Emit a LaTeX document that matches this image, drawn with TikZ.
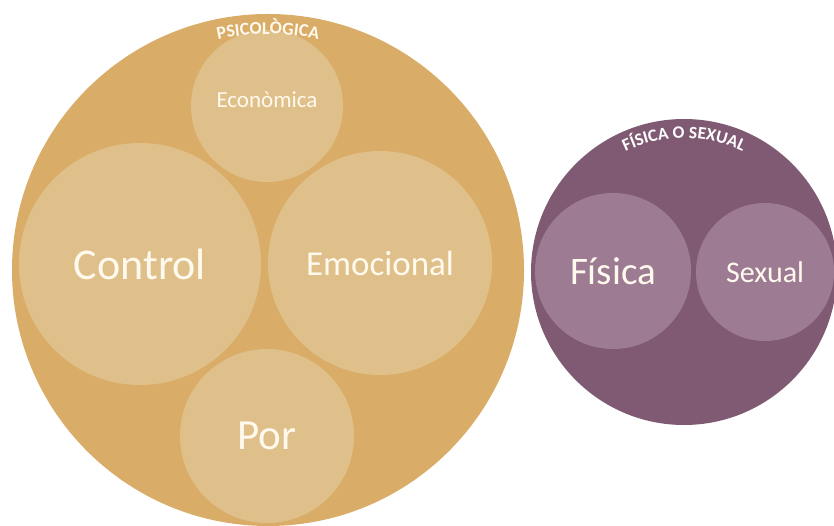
\documentclass[tikz,border=0pt]{standalone}
\usepackage{fontspec}
\setmainfont{Carlito}
\usetikzlibrary{calc,decorations.text}
\definecolor{tanbg}{RGB}{217,173,104}
\definecolor{tanlight}{RGB}{224,192,138}
\definecolor{plumbg}{RGB}{128,90,115}
\definecolor{plumlight}{RGB}{157,124,147}
\definecolor{cream}{RGB}{255,249,238}

\begin{document}
\begin{tikzpicture}[x=1pt,y=1pt,
  bubble/.style={circle,inner sep=0pt,minimum size=#1},
  word/.style={text=cream,inner sep=0pt,font=\fontsize{#1}{#1}\selectfont}]
  \useasboundingbox (0,0) rectangle (834,525);

  % Psicologica
  \node[bubble=512,fill=tanbg] (psico) at (268,255) {};
  \node[bubble=152,fill=tanlight] (econ) at (267,419) {};
  \node[bubble=242,fill=tanlight] (control) at (140,261) {};
  \node[bubble=224,fill=tanlight] (emoc) at (380,262) {};
  \node[bubble=174,fill=tanlight] (por) at (267,89) {};

  \node[word=23] (econlbl) at ($(econ.center)+(0,6)$) {Econòmica};
  \node[word=44] (controllbl) at (control.center) {Control};
  \node[word=35] (emoclbl) at (emoc.center) {Emocional};
  \node[word=43] (porlbl) at (por.center) {Por};

  \path[decorate,decoration={text along path,text align=center,
      text={|\bfseries\fontsize{18}{18}\selectfont\color{cream}|PSICOLÒGICA}}]
    ($(psico.center)+(120:236)$) arc[start angle=120,end angle=60,radius=236];

  % Fisica o sexual
  \node[bubble=306,fill=plumbg] (fisex) at (684,253) {};
  \node[bubble=156,fill=plumlight] (fisica) at (613,254) {};
  \node[bubble=138,fill=plumlight] (sexual) at (765,253) {};

  \node[word=39] (fisicalbl) at (fisica.center) {Física};
  \node[word=30] (sexuallbl) at (sexual.center) {Sexual};

  \path[decorate,decoration={text along path,text align=center,
      text={|\bfseries\fontsize{17.5}{17.5}\selectfont\color{white}|FÍSICA O SEXUAL}}]
    ($(fisex.center)+(135:134)$) arc[start angle=135,end angle=45,radius=134];
\end{tikzpicture}
\end{document}
